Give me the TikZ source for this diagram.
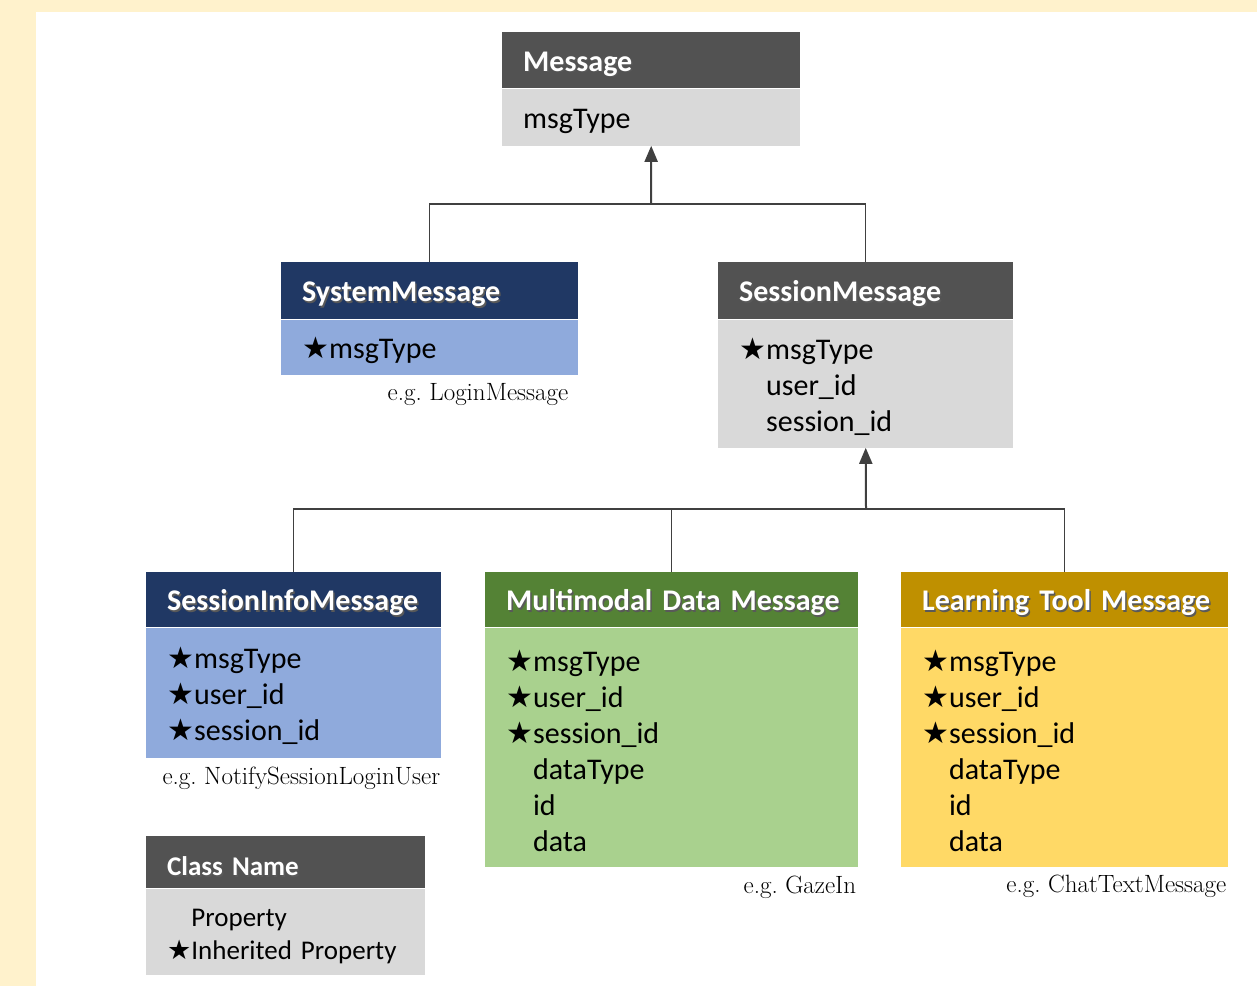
\documentclass[tikz,border=0pt]{standalone}
\usepackage{fontspec}
\newfontfamily\calibri{Carlito}
\newfontfamily\starfont{DejaVu Sans}
\usetikzlibrary{positioning,arrows.meta}
\definecolor{cream}{HTML}{FFF2CC}
\definecolor{hgray}{HTML}{525252}
\definecolor{bgray}{HTML}{D9D9D9}
\definecolor{navy}{HTML}{203864}
\definecolor{lblue}{HTML}{8FAADC}
\definecolor{dgreen}{HTML}{548235}
\definecolor{lgreen}{HTML}{A9D18E}
\definecolor{gold}{HTML}{BF9000}
\definecolor{lgold}{HTML}{FFD966}
\newcommand\st{{\starfont ★}}
\newcommand\ns{\hphantom{\st}}
\newcommand\shd[1]{\mbox{\rlap{\kern1.5pt\raisebox{-1.5pt}{\textcolor{black!65}{#1}}}#1}}

\begin{document}
\begin{tikzpicture}[x=1pt, y=-1pt,
 class head/.style={anchor=north west, inner xsep=21pt, inner ysep=0pt, align=left, text=white, font=\calibri\bfseries\fontsize{30}{36}\selectfont, execute at begin node=\rule{0pt}{29pt}},
 class body/.style={inner xsep=21pt, inner ysep=0pt, align=left, font=\calibri\fontsize{30}{36}\selectfont, execute at begin node=\rule{0pt}{28pt}},
 eg/.style={anchor=east, inner sep=0pt, font=\fontsize{25}{29}\selectfont},
 conn/.style={line width=1.5pt, draw=black!75},
 up/.style={conn, line width=2pt, -{Triangle[length=16pt, width=13pt]}}]
\fill[cream] (0,0) rectangle (1257,986);
\fill[white] (36,12) rectangle (1257,986);
\useasboundingbox (0,0) rectangle (1257,986);

\node[class head, fill=hgray, text width=256pt, minimum height=56pt] (1) at (502,32) {\shd{Message}};
\node[class body, fill=bgray, text width=256pt, minimum height=57pt, below=0pt of 1] (1b) {msgType};

\node[class head, fill=navy, text width=255pt, minimum height=57pt] (2) at (281,262) {\shd{SystemMessage}};
\node[class body, fill=lblue, text width=255pt, minimum height=55pt, below=0pt of 2] (2b) {\st msgType};
\node[eg] (2c) at ([shift={(-10,20)}]2b.south east) {e.g.\ LoginMessage};

\node[class head, fill=hgray, text width=253pt, minimum height=57pt] (3) at (718,262) {\shd{SessionMessage}};
\node[class body, fill=bgray, text width=253pt, minimum height=128pt, below=0pt of 3] (3b) {\st msgType\\ \ns user\_id\\ \ns session\_id};

\node[class head, fill=navy, text width=253pt, minimum height=55pt] (4) at (146,572) {\shd{SessionInfoMessage}};
\node[class body, fill=lblue, text width=253pt, minimum height=130pt, below=0pt of 4] (4b) {\st msgType\\ \st user\_id\\ \st session\_id};
\node[eg] (4c) at ([shift={(-1,20)}]4b.south east) {e.g.\ NotifySessionLoginUser};

\node[class head, fill=dgreen, text width=331pt, minimum height=55pt] (5) at (485,572) {\shd{Multimodal Data Message}};
\node[class body, fill=lgreen, text width=331pt, minimum height=239pt, below=0pt of 5] (5b) {\st msgType\\ \st user\_id\\ \st session\_id\\ \ns dataType\\ \ns id\\ \ns data};
\node[eg] (5c) at ([shift={(-2,20)}]5b.south east) {e.g.\ GazeIn};

\node[class head, fill=gold, text width=285pt, minimum height=55pt] (6) at (901,572) {\shd{Learning Tool Message}};
\node[class body, fill=lgold, text width=285pt, minimum height=239pt, below=0pt of 6] (6b) {\st msgType\\ \st user\_id\\ \st session\_id\\ \ns dataType\\ \ns id\\ \ns data};
\node[eg] (6c) at ([shift={(-2,19)}]6b.south east) {e.g.\ ChatTextMessage};

\node[class head, fill=hgray, text width=237pt, minimum height=52pt, font=\calibri\bfseries\fontsize{27}{33}\selectfont] (7) at (146,836) {\shd{Class Name}};
\node[class body, fill=bgray, text width=237pt, minimum height=86pt, font=\calibri\fontsize{27}{33}\selectfont, below=0pt of 7] (7b) {\ns Property\\ \st Inherited Property};

\coordinate (j1) at (651,204);
\coordinate (j2) at (866,509);
\draw[conn] (2.north) |- (j1) -| (3.north);
\draw[up] (j1) -- (1b.south);
\draw[conn] (4.north) |- (j2);
\draw[conn] (5.north) |- (j2);
\draw[conn] (6.north) |- (j2);
\draw[up] (j2) -- (3b.south);
\end{tikzpicture}
\end{document}
